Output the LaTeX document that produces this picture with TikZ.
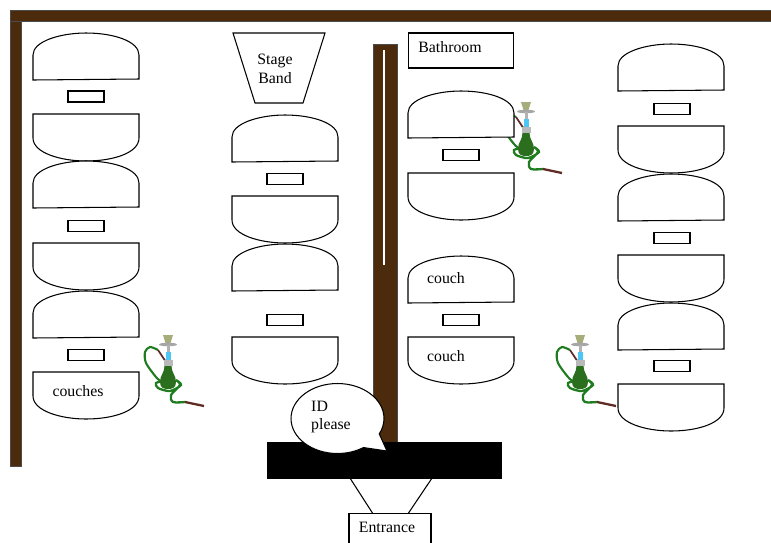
\documentclass[tikz,border=0pt]{standalone}
\usepackage{fontspec}
\setmainfont{Liberation Serif}
\usetikzlibrary{positioning, calc}
\usetikzlibrary{shapes.geometric, shapes.callouts}

\definecolor{wallbrown}{HTML}{4B2B0B}
\definecolor{hosegreen}{HTML}{1F7D1F}
\definecolor{vasegreen}{HTML}{2A6E1E}
\definecolor{cupolive}{HTML}{A6AC7A}
\definecolor{hoseend}{HTML}{5E2C24}

\tikzset{
    wall/.style={fill=wallbrown, draw=black!70, line width=0.4pt},
    roomtext/.style={font=\fontsize{9}{10.5}\selectfont, align=center, inner sep=0pt},
    tabletop/.style={draw, line width=0.6pt, fill=white, minimum width=0.72cm, minimum height=0.22cm, inner sep=0pt},
    couchup/.pic={
        \draw[line width=0.6pt, fill=white] (0,47) -- (0,22) .. controls (0,8) and (28,0) .. (53,0)
            .. controls (80,0) and (106,8) .. (106,22) -- (106,46) -- cycle;
    },
    couchdown/.pic={
        \draw[line width=0.6pt, fill=white] (0,0) -- (106,0) -- (106,24) .. controls (106,39) and (80,47) .. (53,47)
            .. controls (28,47) and (0,39) .. (0,24) -- cycle;
    },
    hookah/.pic={
        % hoses first, the vase sits on top of them
        \draw[hosegreen, line width=1.2pt] plot[smooth] coordinates {(-10,15) (-18,12) (-23,17) (-22,28) (-12,42) (-5,48)};
        \draw[hoseend, line width=1pt] (-2,27) -- (-10,15);
        \draw[hosegreen, line width=1.3pt] plot[smooth] coordinates {(-4,46) (-12,48) (-10,53) (2,56) (13,50) (8,45) (12,50) (3,60) (5,67) (17,67)};
        \draw[hoseend, line width=1.3pt] (17,67) -- (36,71);
        \fill[cupolive] (-5,0) -- (5,0) -- (2.5,8) -- (-2.5,8) -- cycle;
        \fill[gray!70] (0,9.5) ellipse (9 and 1.8);
        \fill[gray!60] (-1.5,10) rectangle (1.5,17);
        \fill[cyan!70!white] (-2.5,17) rectangle (2.5,25);
        \fill[gray!55] (-4.5,25) rectangle (4.5,31);
        \fill[vasegreen] (-3.5,31) -- (3.5,31) .. controls (3.5,38) and (8,40) .. (8,47)
            .. controls (8,53) and (4,54) .. (0,54) .. controls (-4,54) and (-8,53) .. (-8,47)
            .. controls (-8,40) and (-3.5,38) .. (-3.5,31) -- cycle;
    }
}

\begin{document}
\begin{tikzpicture}[x=0.02cm, y=-0.02cm]
    \useasboundingbox (0,0) rectangle (771,542);

    % walls
    \draw[wall] (10,10) rectangle (771,21);
    \draw[wall] (10,21) rectangle (21,466);
    \draw[wall] (373,44) rectangle (397,444);
    \fill[white] (383,50) rectangle (385,265);

    % hookahs stand behind the couches
    \pic at (168,335) {hookah};
    \pic at (526,102) {hookah};
    \pic at (580,335) {hookah};

    % left row
    \pic at (33,33) {couchup};
    \node[tabletop] (leftA) at (86,96.5) {};
    \pic at (33,114) {couchdown};
    \pic at (33,161) {couchup};
    \node[tabletop] (leftB) at (86,226) {};
    \pic at (33,243) {couchdown};
    \pic at (33,291) {couchup};
    \node[tabletop] (leftC) at (86,355) {};
    \pic at (33,372) {couchdown};
    \node[roomtext] (couches) at (78,391) {couches};

    % stage and second row
    \draw[line width=0.6pt] (233,33) -- (325,33) -- (303,103) -- (255,103) -- cycle;
    \node[roomtext] (stagetext) at (275,69) {Stage\\Band};
    \pic at (232,115) {couchup};
    \node[tabletop] (midA) at (285,179) {};
    \pic at (232,196) {couchdown};
    \pic at (232,244) {couchup};
    \node[tabletop] (midB) at (285,320) {};
    \pic at (232,337) {couchdown};

    % third row
    \node[draw, line width=0.6pt, minimum width=2.10cm, minimum height=0.70cm, inner sep=0pt] (bathroom) at (461,50.5) {};
    \node[roomtext] (bathtext) at (450,47) {Bathroom};
    \pic at (408,91) {couchup};
    \node[tabletop] (thirdA) at (461,155) {};
    \pic at (408,173) {couchdown};
    \pic at (408,256) {couchup};
    \node[roomtext] (couchA) at (446,278) {couch};
    \node[tabletop] (thirdB) at (461,320) {};
    \pic at (408,337) {couchdown};
    \node[roomtext] (couchB) at (446,356) {couch};

    % right row
    \pic at (618,44) {couchup};
    \node[tabletop] (rightA) at (672,109) {};
    \pic at (618,126) {couchdown};
    \pic at (618,174) {couchup};
    \node[tabletop] (rightB) at (672,238) {};
    \pic at (618,255) {couchdown};
    \pic at (618,303) {couchup};
    \node[tabletop] (rightC) at (672,366) {};
    \pic at (618,384) {couchdown};

    % door and entrance
    \node[fill=black, draw=black, minimum width=4.68cm, minimum height=0.72cm, inner sep=0pt] (door) at (384.5,460) {};
    \node[draw, line width=0.6pt, fill=white, minimum width=1.64cm, minimum height=0.62cm, inner sep=0pt, anchor=north] (entrance) at (390,513) {};
    \node[roomtext] (entrancetext) at (387,527) {Entrance};
    \draw[line width=0.6pt] ([xshift=1.66cm]door.south west) -- ([xshift=0.48cm]entrance.north west);
    \draw[line width=0.6pt] ([xshift=-1.40cm]door.south east) -- ([xshift=-0.46cm]entrance.north east);

    % speech bubble
    \node[draw, line width=0.6pt, fill=white, ellipse callout, minimum width=1.86cm, minimum height=1.40cm, inner sep=0pt,
        callout absolute pointer={(387,451)}, callout pointer arc=30] (bubble) at (337.5,418.5) {};
    \node[roomtext, align=left] (bubbletext) at (331,417) {ID\\please};
\end{tikzpicture}
\end{document}
